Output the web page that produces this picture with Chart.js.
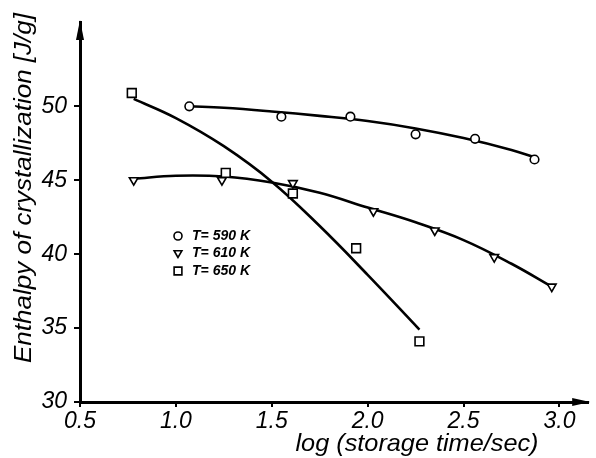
<!DOCTYPE html>
<html><head><meta charset="utf-8">
<script src="https://cdn.jsdelivr.net/npm/chart.js@4"></script>
<style>html,body{margin:0;padding:0;background:#fff}#wrap{width:596px;height:458px;position:relative}</style>
</head><body><div id="wrap"><canvas id="c"></canvas></div>
<script>
// Measured points
const x590 = [1.07, 1.55, 1.91, 2.25, 2.56, 2.87];
const y590 = [50.0, 49.3, 49.3, 48.1, 47.8, 46.4];
const x610 = [0.78, 1.24, 1.61, 2.03, 2.35, 2.66, 2.96];
const y610 = [45.0, 45.0, 44.8, 42.9, 41.6, 39.8, 37.8];
const x650 = [0.77, 1.26, 1.61, 1.94, 2.27];
const y650 = [50.9, 45.5, 44.1, 40.4, 34.1];
// Fitted curves
const fx590 = [1.07, 1.25, 1.5, 1.75, 2.0, 2.25, 2.5, 2.75, 2.87];
const fy590 = [50.0, 49.9, 49.65, 49.35, 49.0, 48.5, 47.85, 47.05, 46.55];
const fx610 = [0.78, 1.0, 1.25, 1.5, 1.75, 2.0, 2.25, 2.5, 2.75, 2.96];
const fy610 = [45.1, 45.3, 45.25, 44.85, 44.15, 43.15, 42.15, 40.95, 39.35, 37.8];
const fx650 = [0.78, 1.0, 1.25, 1.5, 1.75, 2.0, 2.27];
const fy650 = [50.5, 49.2, 47.3, 44.9, 41.9, 38.6, 34.9];
const xTicks = [0.5, 1.0, 1.5, 2.0, 2.5, 3.0];
const yTicks = [30, 35, 40, 45, 50];
const legendLabels = ['T= 590 K', 'T= 610 K', 'T= 650 K'];
const xTitle = 'log (storage time/sec)';
const yTitle = 'Enthalpy of crystallization [J/g]';

const pts = (xs, ys) => xs.map((x, i) => ({x, y: ys[i]}));
const FONT = '"Liberation Sans", Arial, sans-serif';

const markerBase = {showLine:false, borderColor:'#000', backgroundColor:'#fff', borderWidth:1.6, order:0};
const lineBase = {showLine:true, borderColor:'#000', borderWidth:2.6, pointRadius:0, tension:0.4, fill:false, order:1};

function fitText(ctx, text, cx, cy, width){
  const w = ctx.measureText(text).width;
  ctx.save();
  ctx.translate(cx, cy);
  ctx.scale(width / w, 1);
  ctx.fillText(text, 0, 0);
  ctx.restore();
}

const decor = {
  id:'decor',
  afterDraw(chart){
    const ctx = chart.ctx, ca = chart.chartArea;
    ctx.save();
    ctx.fillStyle = '#000';
    // y arrow
    ctx.beginPath();
    ctx.moveTo(ca.left, ca.top - 2);
    ctx.lineTo(ca.left - 4, ca.top + 18);
    ctx.lineTo(ca.left + 4, ca.top + 18);
    ctx.closePath(); ctx.fill();
    // x arrow
    ctx.beginPath();
    ctx.moveTo(ca.right + 2, ca.bottom);
    ctx.lineTo(ca.right - 16, ca.bottom - 4);
    ctx.lineTo(ca.right - 16, ca.bottom + 4);
    ctx.closePath(); ctx.fill();
    // titles
    ctx.font = 'italic 24px ' + FONT;
    ctx.textAlign = 'center'; ctx.textBaseline = 'middle';
    fitText(ctx, xTitle, 417, 444, 243);
    ctx.save();
    ctx.translate(24, 188); ctx.rotate(-Math.PI/2);
    fitText(ctx, yTitle, 0, 0, 350);
    ctx.restore();
    ctx.restore();
    // legend
    ctx.save();
    const styles = [['circle',0,4],['triangle',180,4.5],['rect',0,5.5]];
    const rows = [236, 253, 271];
    ctx.font = 'italic bold 14px ' + FONT;
    ctx.textAlign = 'left'; ctx.textBaseline = 'middle';
    rows.forEach((yy, i) => {
      ctx.strokeStyle = '#000'; ctx.fillStyle = '#fff'; ctx.lineWidth = 1.6;
      Chart.helpers.drawPoint(ctx, {pointStyle: styles[i][0], rotation: styles[i][1], radius: styles[i][2], borderWidth:1.6}, 178, yy);
      ctx.fillStyle = '#000';
      fitText(ctx, legendLabels[i], 192, yy, 58);
    });
    ctx.restore();
  }
};

new Chart(document.getElementById('c'), {
  type:'scatter',
  data:{datasets:[
    {...markerBase, data: pts(x590, y590), pointStyle:'circle', pointRadius:4.3},
    {...markerBase, data: pts(x610, y610), pointStyle:'triangle', pointRotation:180, pointRadius:5},
    {...markerBase, data: pts(x650, y650), pointStyle:'rect', pointRadius:6.2},
    {...lineBase, data: pts(fx590, fy590)},
    {...lineBase, data: pts(fx610, fy610)},
    {...lineBase, data: pts(fx650, fy650)}
  ]},
  options:{
    responsive:true, maintainAspectRatio:false, animation:false,
    layout:{padding:{top:22, right:4, left:0, bottom:0}},
    plugins:{legend:{display:false}, tooltip:{enabled:false}},
    scales:{
      x:{type:'linear', min:0.5, max:3.15,
        afterBuildTicks: s => { s.ticks = xTicks.map(v => ({value:v})); },
        afterFit: s => { s.height = 56; },
        border:{color:'#000', width:3},
        grid:{drawOnChartArea:false, color:'#000', lineWidth:2, tickLength:5},
        ticks:{color:'#000', font:{family:FONT, size:23, style:'italic'}, padding:1, maxRotation:0,
          callback: v => v.toFixed(1)}
      },
      y:{type:'linear', min:30, max:55.7,
        afterBuildTicks: s => { s.ticks = yTicks.map(v => ({value:v})); },
        afterFit: s => { s.width = 80; },
        border:{color:'#000', width:3},
        grid:{drawOnChartArea:false, color:'#000', lineWidth:2, tickLength:6},
        ticks:{color:'#000', font:{family:FONT, size:23, style:'italic'}, padding:7,
          callback: v => String(v)}
      }
    }
  },
  plugins:[decor]
});
</script></body></html>
